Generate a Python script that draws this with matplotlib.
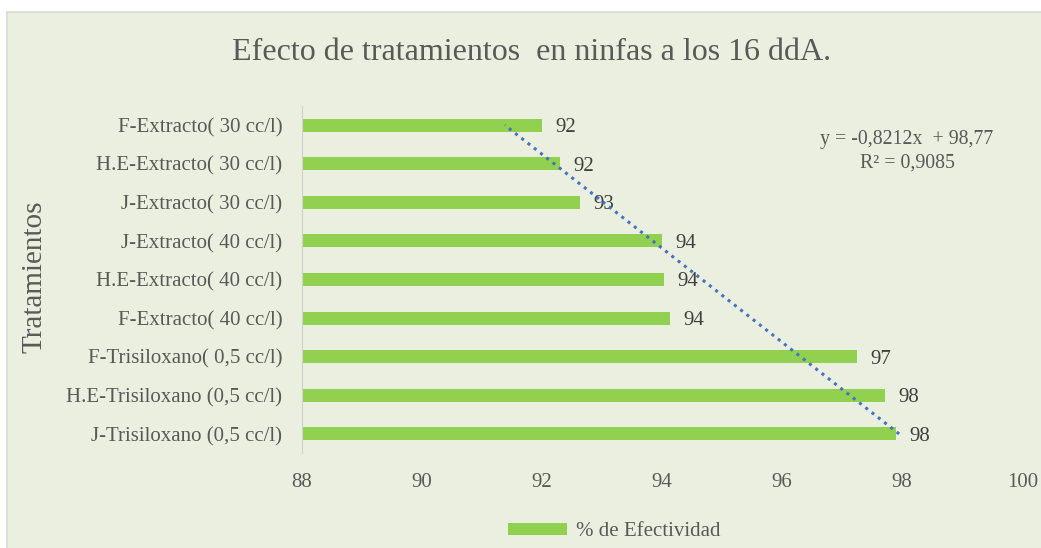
import matplotlib.pyplot as plt
from matplotlib.patches import Rectangle
import numpy as np

# categories listed bottom to top (as Excel draws them)
tratamientos = [
    "J-Trisiloxano (0,5 cc/l)",
    "H.E-Trisiloxano (0,5 cc/l)",
    "F-Trisiloxano( 0,5 cc/l)",
    "F-Extracto( 40 cc/l)",
    "H.E-Extracto( 40 cc/l)",
    "J-Extracto( 40 cc/l)",
    "J-Extracto( 30 cc/l)",
    "H.E-Extracto( 30 cc/l)",
    "F-Extracto( 30 cc/l)",
]
efectividad = [97.9, 97.72, 97.25, 94.14, 94.04, 94.0, 92.64, 92.3, 92.0]
etiquetas = ["98", "98", "97", "94", "94", "94", "93", "92", "92"]

# linear trend line as reported on the chart
pendiente = -0.8212
intercepto = 98.77

plt.rcParams['font.family'] = ['Liberation Serif', 'DejaVu Serif']

fondo = "#ebefdf"
verde = "#92d050"
gris = "#595959"

fig = plt.figure(figsize=(10.41, 5.48), dpi=100)
fig.patch.set_facecolor("white")
fig.patches.append(Rectangle((7 / 1041, -0.01), 1.02, 1 - 12 / 548 + 0.01,
                             transform=fig.transFigure, facecolor=fondo,
                             edgecolor="#d9d9d9", linewidth=1.2, zorder=-10))

ax = fig.add_axes([0.290, 0.173, 0.692, 0.634])
ax.set_facecolor("none")

y = np.arange(len(tratamientos))
ax.barh(y, efectividad, height=0.34, color=verde, label="% de Efectividad", zorder=2)
for yi, v, t in zip(y, efectividad, etiquetas):
    ax.text(v + 0.22, yi, t, va="center_baseline", ha="left", fontsize=15, color="#404040")

# trend line: x = 1 is the bottom category
xt = np.array([y[0], y[-1]]) + 1
ax.plot(pendiente * xt + intercepto, xt - 1, linestyle=(0, (1, 1.6)),
        color="#4472c4", linewidth=2.2, zorder=3)

ax.set_xlim(88, 100)
ax.set_ylim(-0.5, len(tratamientos) - 0.5)
ax.set_xticks(np.arange(88, 101, 2))
ax.set_yticks(y)
ax.set_yticklabels(tratamientos)
ax.tick_params(length=0, labelsize=15, colors=gris)
ax.tick_params(axis="x", pad=14)
ax.tick_params(axis="y", pad=14)
for s in ["top", "right", "bottom"]:
    ax.spines[s].set_visible(False)
ax.spines["left"].set_color("#d0d0d0")

ax.text(0.84, 0.93, "y = -0,8212x  + 98,77\nR² = 0,9085", transform=ax.transAxes,
        ha="center", va="top", fontsize=14.3, color=gris, linespacing=1.3)

fig.text(532 / 1041, 1 - 52 / 548, "Efecto de tratamientos  en ninfas a los 16 ddA.",
         ha="center", va="center", fontsize=23, color=gris)
fig.text(35 / 1041, 1 - 277 / 548, "Tratamientos", rotation=90, ha="center",
         va="center", fontsize=21, color=gris)

ax.legend(loc="center", bbox_to_anchor=(614 / 1041, 1 - 532 / 548),
          bbox_transform=fig.transFigure, frameon=False, fontsize=15,
          labelcolor=gris, handlelength=2.85, handleheight=0.55, handletextpad=0.4)

fig.savefig("out.png", dpi=100, facecolor=fig.get_facecolor())
